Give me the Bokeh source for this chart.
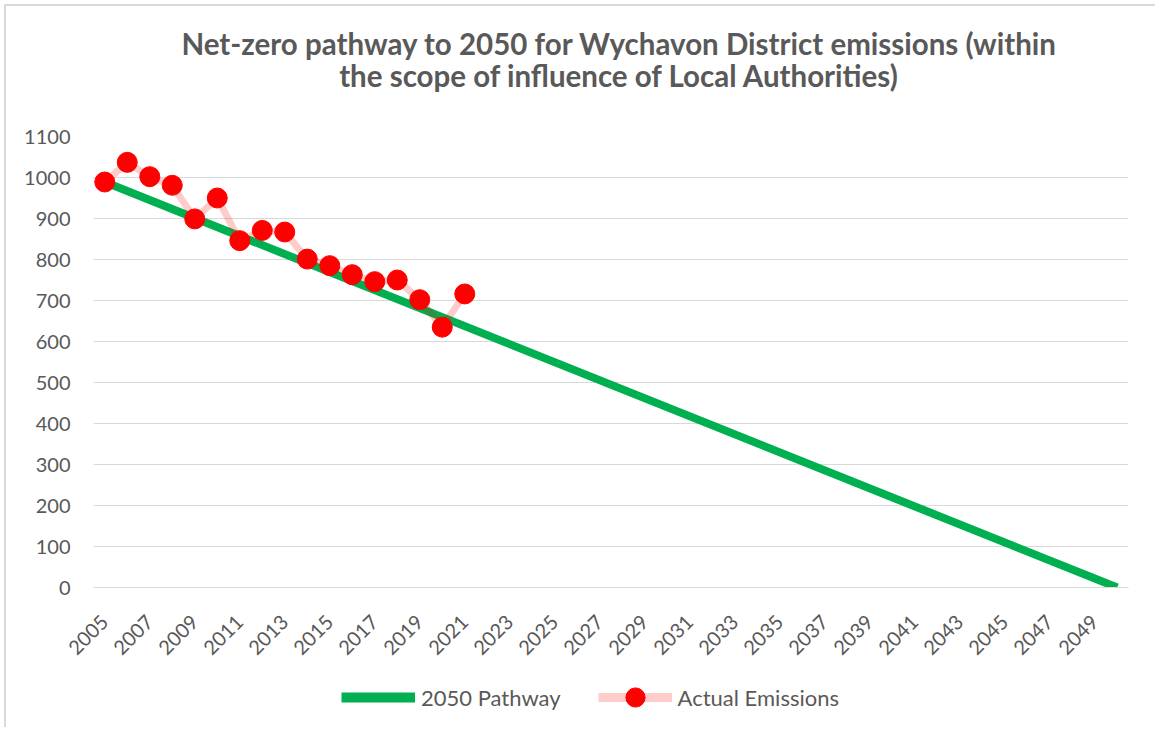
import math
from bokeh.plotting import figure
from bokeh.layouts import column
from bokeh.models import FixedTicker, Legend, LegendItem, Range1d
from bokeh.core.properties import value
from bokeh.embed import file_html
from bokeh.resources import INLINE

# ---- data ----
years_actual = [2005, 2006, 2007, 2008, 2009, 2010, 2011, 2012, 2013,
                2014, 2015, 2016, 2017, 2018, 2019, 2020, 2021]
actual_emissions = [989, 1037, 1002, 981, 899, 950, 846, 871, 867,
                    801, 785, 763, 746, 750, 702, 635, 716]
pathway_years = [2005, 2050]
pathway_values = [989, 0]
x_tick_years = [2005, 2007, 2009, 2011, 2013, 2015, 2017, 2019, 2021, 2023,
                2025, 2027, 2029, 2031, 2033, 2035, 2037, 2039, 2041, 2043,
                2045, 2047, 2049]
y_ticks = [0, 100, 200, 300, 400, 500, 600, 700, 800, 900, 1000, 1100]
title_lines = ["Net-zero pathway to 2050 for Wychavon District emissions (within",
               "the scope of influence of Local Authorities)"]

FONT = "Lato"
GREY = "#595959"
GREEN = "#00B050"
RED = "#FF0000"
W = 1149
LEFT, RIGHT = 87, 27


def bare(fig):
    fig.outline_line_color = None
    fig.xgrid.visible = False
    fig.ygrid.visible = False
    fig.background_fill_color = "white"
    fig.border_fill_color = "white"


# ---- title (frame is aligned with the chart frame by the column layout) ----
tf = figure(width=W, height=104, output_backend="svg", toolbar_location=None,
            x_axis_location=None, y_axis_location=None,
            x_range=Range1d(LEFT, W - RIGHT), y_range=Range1d(104, 0),
            min_border=0, min_border_left=LEFT, min_border_right=RIGHT,
            min_border_top=0, min_border_bottom=0)
bare(tf)
tf.text(x=[613, 613], y=[37, 69], text=title_lines,
        text_font=value(FONT), text_font_size="29.5px", text_font_style="bold",
        text_color=GREY, text_align="center", text_baseline="alphabetic")

# ---- main chart ----
p = figure(width=W, height=557, output_backend="svg", toolbar_location=None,
           x_range=Range1d(2004.5, 2050.5), y_range=Range1d(0, 1100),
           min_border_left=LEFT, min_border_right=RIGHT,
           min_border_top=26, min_border_bottom=80)
p.outline_line_color = None
p.background_fill_color = "white"
p.border_fill_color = "white"

p.xgrid.grid_line_color = None
p.ygrid.grid_line_color = "#D9D9D9"
p.ygrid.grid_line_width = 1

p.yaxis.ticker = FixedTicker(ticks=y_ticks)
p.yaxis.axis_line_color = None
p.yaxis.major_tick_line_color = None
p.yaxis.minor_tick_line_color = None
p.yaxis.major_label_text_font = FONT
p.yaxis.major_label_text_font_size = "20px"
p.yaxis.major_label_text_color = GREY
p.yaxis.major_label_standoff = 17

p.xaxis.ticker = FixedTicker(ticks=x_tick_years)
p.xaxis.axis_line_color = "#D9D9D9"
p.xaxis.major_tick_line_color = None
p.xaxis.minor_tick_line_color = None
p.xaxis.major_label_text_font = FONT
p.xaxis.major_label_text_font_size = "20px"
p.xaxis.major_label_text_color = GREY
p.xaxis.major_label_orientation = math.pi / 4
p.xaxis.major_label_standoff = 25

p.line(pathway_years, pathway_values, line_color=GREEN, line_width=8)
p.line(years_actual, actual_emissions, line_color=RED, line_alpha=0.2, line_width=7)
p.scatter(years_actual, actual_emissions, size=20, fill_color=RED, line_color=RED)

# ---- legend strip (legend proxies use the same series, kept out of view) ----
lf = figure(width=W, height=60, output_backend="svg", toolbar_location=None,
            x_axis_location=None, y_axis_location=None,
            x_range=Range1d(0, 1), y_range=Range1d(0, 1),
            min_border=0, min_border_left=LEFT, min_border_right=RIGHT,
            min_border_top=0, min_border_bottom=0)
bare(lf)
lg = lf.line(pathway_years, pathway_values, line_color=GREEN, line_width=10)
ll = lf.line(years_actual, actual_emissions, line_color=RED, line_alpha=0.2, line_width=9)
ls = lf.scatter(years_actual, actual_emissions, size=18, fill_color=RED, line_color=RED)
legend = Legend(items=[LegendItem(label="2050 Pathway", renderers=[lg]),
                       LegendItem(label="Actual Emissions", renderers=[ll, ls])],
                orientation="horizontal", location="left", margin=248, padding=0,
                glyph_width=74, glyph_height=48,
                label_text_font=FONT, label_text_font_size="22px",
                label_text_color=GREY, border_line_color=None,
                background_fill_alpha=0, spacing=37, label_standoff=6)
lf.add_layout(legend, "center")

layout = column(tf, p, lf, styles={"margin-left": "4px", "margin-top": "4px",
                                   "border-left": "2px solid #D9D9D9",
                                   "border-top": "2px solid #D9D9D9"})
open("out.html", "w").write(file_html(layout, INLINE))
